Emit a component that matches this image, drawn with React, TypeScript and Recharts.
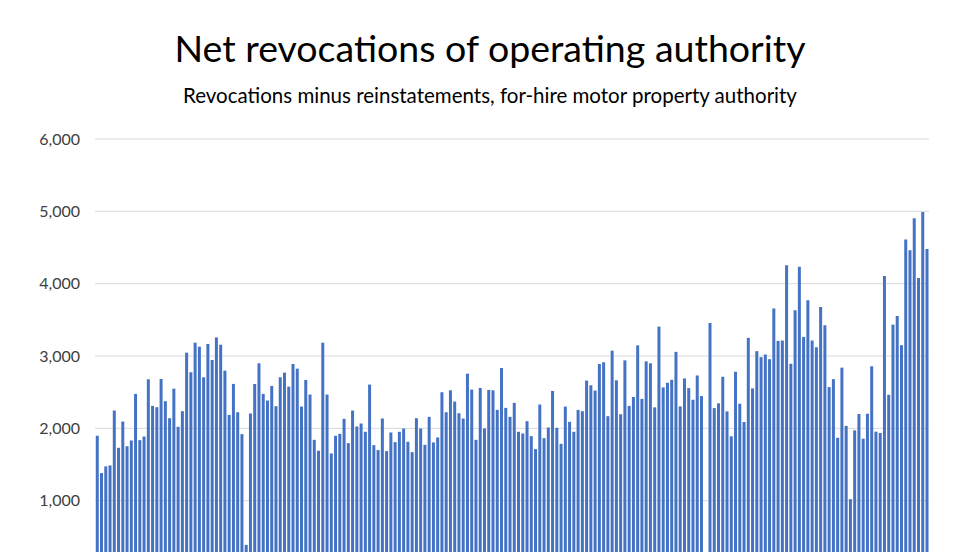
import { BarChart, Bar, XAxis, YAxis, CartesianGrid } from "recharts";

const netRevocations: (number | null)[] = [
  1897, 1382, 1474, 1487, 2246, 1731, 2094, 1754, 1832, 2476,
  1837, 1887, 2678, 2310, 2292, 2683, 2375, 2140, 2549, 2021,
  2237, 3046, 2775, 3184, 3129, 2706, 3166, 2945, 3257, 3156,
  2798, 2186, 2614, 2223, 1920, 389, 2205, 2614, 2899, 2476,
  2384, 2586, 2306, 2706, 2770, 2577, 2890, 2825, 2301, 2669,
  2467, 1841, 1690, 3184, 2467, 1653, 1897, 1924, 2131, 1795,
  2246, 2025, 2067, 1952, 2605, 1768, 1699, 2136, 1685, 1943,
  1809, 1952, 1998, 1814, 1671, 2140, 1998, 1772, 2159, 1805,
  1874, 2499, 2223, 2526, 2370, 2209, 2136, 2756, 2536, 1841,
  2559, 1998, 2531, 2526, 2255, 2834, 2283, 2159, 2352, 1952,
  1929, 2099, 1892, 1713, 2329, 1864, 2011, 2517, 2007, 1786,
  2301, 2090, 1952, 2255, 2237, 2660, 2595, 2522, 2890, 2913,
  2168, 3074, 2664, 2195, 2940, 2310, 2434, 3147, 2407, 2926,
  2899, 2290, 3407, 2566, 2630, 2671, 3057, 2303, 2690, 2556,
  2395, 2731, 2446, null, 3457, 2280, 2345, 2713, 2234, 1890,
  2782, 2340, 2087, 3251, 2552, 3067, 2984, 3021, 2956, 3655,
  3209, 3214, 4253, 2892, 3632, 4234, 3264, 3770, 3214, 3122,
  3678, 3425, 2570, 2680, 1869, 2839, 2034, 1021, 1972, 2198,
  1857, 2202, 2858, 1954, 1936, 4106, 2464, 3434, 3554, 3149,
  4611, 4462, 4903, 4078, 4991, 4478,
];

const periods = netRevocations.map((_, i) => `P${i + 1}`);

// the 0 line sits below the visible area, so only these ticks are labelled
const yTicks = [1000, 2000, 3000, 4000, 5000, 6000];

const data = periods.map((p, i) => ({ period: p, net: netRevocations[i] }));

const FONT = "Lato, 'Open Sans', sans-serif";

export default function App() {
  return (
    <div
      style={{
        position: "fixed",
        left: 0,
        top: 0,
        width: 980,
        height: 552,
        overflow: "hidden",
        background: "#fff",
        fontFamily: FONT,
      }}
    >
      <div
        style={{
          position: "absolute",
          top: 25,
          left: 0,
          width: 980,
          textAlign: "center",
          fontSize: 37.5,
          color: "#000",
        }}
      >
        Net revocations of operating authority
      </div>
      <div
        style={{
          position: "absolute",
          top: 83,
          left: 0,
          width: 980,
          textAlign: "center",
          fontSize: 20.5,
          color: "#000",
        }}
      >
        Revocations minus reinstatements, for-hire motor property authority
      </div>
      <div style={{ position: "absolute", left: 0, top: 0 }}>
        <BarChart
          width={980}
          height={600}
          data={data}
          margin={{ top: 139, right: 51, bottom: 27, left: 0 }}
          barCategoryGap="18%"
        >
          <CartesianGrid vertical={false} stroke="#d9d9d9" />
          <XAxis dataKey="period" hide />
          <YAxis
            width={95}
            domain={[0, 6000]}
            ticks={yTicks}
            tickFormatter={(v: number) => v.toLocaleString("en-US")}
            axisLine={false}
            tickLine={false}
            tickSize={0}
            tickMargin={15}
            tick={{ fontSize: 16, fill: "#404040", fontFamily: FONT }}
          />
          <Bar dataKey="net" fill="#4472C4" isAnimationActive={false} />
        </BarChart>
      </div>
    </div>
  );
}
